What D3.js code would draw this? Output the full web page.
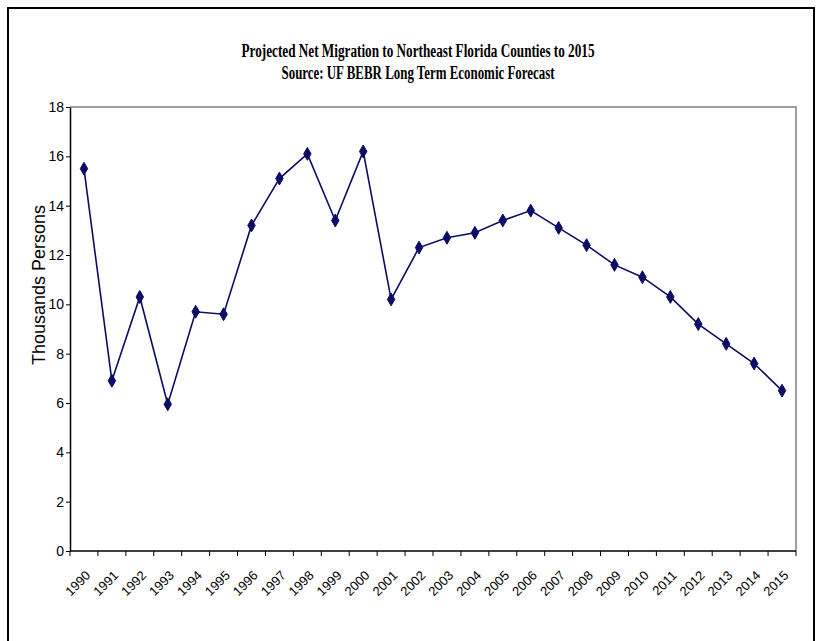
<!DOCTYPE html>
<html>
<head>
<meta charset="utf-8">
<script src="https://cdn.jsdelivr.net/npm/d3@7"></script>
<style>
  html, body { margin: 0; padding: 0; background: #fff; }
  svg { display: block; }
</style>
</head>
<body>
<svg id="chart" width="822" height="641"></svg>
<script>
// Projected net migration, thousands of persons, by year
const years = ["1990","1991","1992","1993","1994","1995","1996","1997","1998","1999",
               "2000","2001","2002","2003","2004","2005","2006","2007","2008","2009",
               "2010","2011","2012","2013","2014","2015"];
const migration = [15.5, 6.9, 10.3, 5.95, 9.7, 9.6, 13.2, 15.1, 16.1, 13.4,
                   16.2, 10.2, 12.3, 12.7, 12.9, 13.4, 13.8, 13.1, 12.4, 11.6,
                   11.1, 10.3, 9.2, 8.4, 7.6, 6.5];
const yTicks = [0, 2, 4, 6, 8, 10, 12, 14, 16, 18];
const titleLines = ["Projected Net Migration to Northeast Florida Counties to 2015",
                    "Source: UF BEBR Long Term Economic Forecast"];
const yTitle = "Thousands Persons";

const svg = d3.select("#chart");
const navy = "#0c0c66";

// outer chart frame
svg.append("rect")
  .attr("x", 8).attr("y", 8).attr("width", 806).attr("height", 700)
  .attr("fill", "#fff").attr("stroke", "#000").attr("stroke-width", 2);

const plot = { left: 70, right: 796, top: 107, bottom: 551 };

const x = d3.scaleBand().domain(years).range([plot.left, plot.right]).padding(0);
const y = d3.scaleLinear().domain([0, 18]).range([plot.bottom, plot.top]);

// plot area border (top and right)
svg.append("path")
  .attr("d", `M${plot.left},${plot.top}H${plot.right}V${plot.bottom}`)
  .attr("fill", "none").attr("stroke", "#808080").attr("stroke-width", 1.5);

// title
const titleSpecs = [
  { text: titleLines[0], y: 57, len: 353 },
  { text: titleLines[1], y: 79, len: 273 }
];
svg.selectAll("text.title").data(titleSpecs).join("text")
  .attr("class", "title")
  .attr("x", 418).attr("y", d => d.y)
  .attr("text-anchor", "middle")
  .attr("textLength", d => d.len)
  .attr("lengthAdjust", "spacingAndGlyphs")
  .style("font-family", "'Liberation Serif', 'Times New Roman', serif")
  .style("font-weight", "bold")
  .style("font-size", "18px")
  .attr("fill", "#000")
  .text(d => d.text);

// y axis
const yAxis = d3.axisLeft(y).tickValues(yTicks).tickSize(4).tickPadding(2).tickSizeOuter(0);
const gy = svg.append("g").attr("transform", `translate(${plot.left},0)`).call(yAxis);
gy.select(".domain").attr("stroke", "#000").attr("stroke-width", 1.5);
gy.selectAll(".tick line").attr("stroke", "#000");
gy.selectAll(".tick text")
  .style("font-family", "'Liberation Sans', Arial, sans-serif")
  .style("font-size", "14px")
  .attr("fill", "#000");

// x axis: ticks on category boundaries
const gx = svg.append("g").attr("transform", `translate(0,${plot.bottom})`);
gx.append("line")
  .attr("x1", plot.left).attr("x2", plot.right)
  .attr("stroke", "#000").attr("stroke-width", 1.5);
const boundaries = years.map(d => x(d)).concat([plot.right]);
gx.selectAll("line.tick").data(boundaries).join("line")
  .attr("class", "tick")
  .attr("x1", d => d).attr("x2", d => d)
  .attr("y1", 0).attr("y2", 5)
  .attr("stroke", "#000");
gx.selectAll("text").data(years).join("text")
  .attr("transform", d => `translate(${x(d) + x.bandwidth() / 2 + 4},${22}) rotate(-45)`)
  .attr("text-anchor", "end")
  .attr("dy", "0.35em")
  .style("font-family", "'Liberation Sans', Arial, sans-serif")
  .style("font-size", "13px")
  .attr("fill", "#000")
  .text(d => d);

// y axis title
svg.append("text")
  .attr("transform", `translate(45,285) rotate(-90)`)
  .attr("text-anchor", "middle")
  .style("font-family", "'Liberation Sans', Arial, sans-serif")
  .style("font-size", "18px")
  .attr("fill", "#000")
  .text(yTitle);

// series line
const pts = years.map((yr, i) => ({ yr, v: migration[i] }));
const line = d3.line()
  .x(d => x(d.yr) + x.bandwidth() / 2)
  .y(d => y(d.v));
svg.append("path")
  .datum(pts)
  .attr("d", line)
  .attr("fill", "none")
  .attr("stroke", navy)
  .attr("stroke-width", 1.6);

// markers
svg.selectAll("path.marker").data(pts).join("path")
  .attr("class", "marker")
  .attr("transform", d => `translate(${x(d.yr) + x.bandwidth() / 2},${y(d.v)})`)
  .attr("d", d3.symbol().type(d3.symbolDiamond).size(48))
  .attr("fill", navy)
  .attr("stroke", navy)
  .attr("stroke-width", 1);
</script>
</body>
</html>
